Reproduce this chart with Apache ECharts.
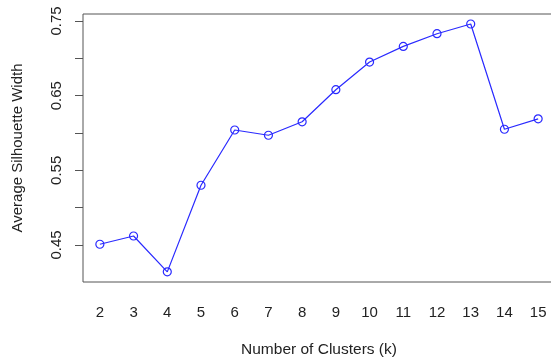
<!DOCTYPE html>
<html>
<head>
<meta charset="utf-8">
<script src="https://cdn.jsdelivr.net/npm/echarts@6/dist/echarts.min.js"></script>
<style>
    html, body { margin: 0; padding: 0; background: #fff; }
    #chart { width: 551px; height: 358px; }
</style>
</head>
<body>
<div id="chart"></div>
<script>
// values
const clusters = ['2', '3', '4', '5', '6', '7', '8', '9', '10', '11', '12', '13', '14', '15'];
const silhouette = [0.451, 0.462, 0.414, 0.530, 0.604, 0.597, 0.615, 0.658, 0.695, 0.716, 0.733, 0.746, 0.605, 0.619];
const yTicks = [0.45, 0.5, 0.55, 0.6, 0.65, 0.7, 0.75];
const yLabels = [0.45, 0.55, 0.65, 0.75];

const textColor = '#222';
const axisColor = '#555';
const font = 'Liberation Sans, Arial, sans-serif';

const chart = echarts.init(document.getElementById('chart'));

chart.setOption({
    animation: false,
    grid: {
        show: true,
        left: 83,
        top: 14,
        width: 472,
        height: 268,
        borderColor: axisColor,
        borderWidth: 1,
        containLabel: false,
        outerBoundsMode: 'none',
    },
    xAxis: {
        type: 'category',
        data: clusters,
        boundaryGap: true,
        name: 'Number of Clusters (k)',
        nameLocation: 'middle',
        nameGap: 60,
        nameTextStyle: { color: textColor, fontSize: 15.5, fontFamily: font },
        axisLine: { show: false },
        axisTick: {
            alignWithLabel: true,
            length: 9,
            lineStyle: { color: axisColor },
        },
        axisLabel: {
            interval: 0,
            margin: 23,
            color: textColor,
            fontSize: 15,
            fontFamily: font,
        },
        splitLine: { show: false },
    },
    yAxis: {
        type: 'value',
        min: 0.4004,
        max: 0.7594,
        name: 'Average Silhouette Width',
        nameLocation: 'middle',
        nameGap: 58,
        nameTextStyle: { color: textColor, fontSize: 15, fontFamily: font },
        axisLine: { show: false },
        axisTick: {
            show: true,
            length: 8,
            customValues: yTicks,
            lineStyle: { color: axisColor },
        },
        axisLabel: {
            rotate: 90,
            margin: 19,
            customValues: yLabels,
            color: textColor,
            fontSize: 15,
            fontFamily: font,
            formatter: (v) => v.toFixed(2),
        },
        splitLine: { show: false },
    },
    series: [
        {
            type: 'line',
            data: silhouette,
            symbol: 'circle',
            symbolSize: 8,
            lineStyle: { color: '#2a2aff', width: 1.2 },
            itemStyle: {
                color: 'rgba(0,0,0,0)',
                borderColor: '#2a2aff',
                borderWidth: 1.2,
            },
        },
    ],
});
</script>
</body>
</html>
